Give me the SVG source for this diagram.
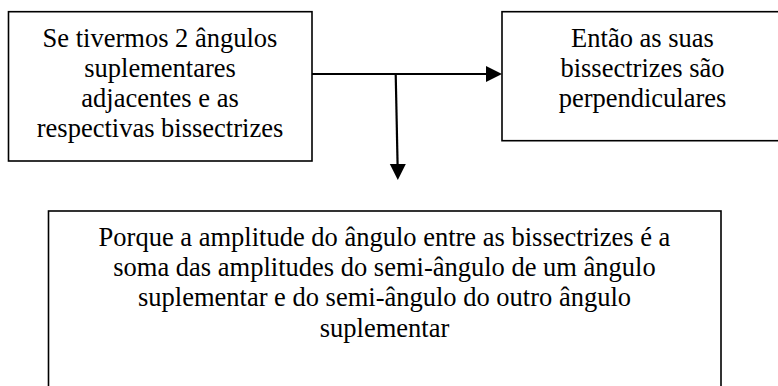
<svg xmlns="http://www.w3.org/2000/svg" width="778" height="386" viewBox="0 0 778 386">
<style>
.box{fill:#fff;stroke:#000;stroke-width:1.6}
.t{font-family:"Liberation Serif","Times New Roman",serif;font-size:26.5px;fill:#000;text-anchor:middle}
.c{stroke:#000;stroke-width:2.2;fill:none}
.ah{fill:#000}
</style>
<rect width="778" height="386" fill="#fff"/>
<g id="node-premissa">
<rect class="box" x="8.5" y="11.7" width="303.5" height="149.3"/>
<text class="t" x="160" y="46.7">Se tivermos 2 ângulos</text>
<text class="t" x="160" y="77">suplementares</text>
<text class="t" x="160" y="107">adjacentes e as</text>
<text class="t" x="160" y="137">respectivas bissectrizes</text>
</g>
<g id="node-conclusao">
<rect class="box" x="502" y="11.7" width="282" height="129"/>
<text class="t" x="642.5" y="46.7">Então as suas</text>
<text class="t" x="642.5" y="77">bissectrizes são</text>
<text class="t" x="642.5" y="107">perpendiculares</text>
</g>
<g id="node-justificacao">
<rect class="box" x="48.5" y="211" width="672.5" height="200"/>
<text class="t" x="384.5" y="246">Porque a amplitude do ângulo entre as bissectrizes é a</text>
<text class="t" x="384.5" y="276">soma das amplitudes do semi-ângulo de um ângulo</text>
<text class="t" x="384.5" y="306">suplementar e do semi-ângulo do outro ângulo</text>
<text class="t" x="384.5" y="336.5">suplementar</text>
</g>
<g id="connectors">
<line class="c" x1="312" y1="74" x2="487" y2="74"/>
<polygon class="ah" points="486,66 502,74 486,82"/>
<line class="c" x1="395.7" y1="74" x2="397.6" y2="165"/>
<polygon class="ah" points="389.8,164 405.8,164 397.8,180"/>
</g>
</svg>
